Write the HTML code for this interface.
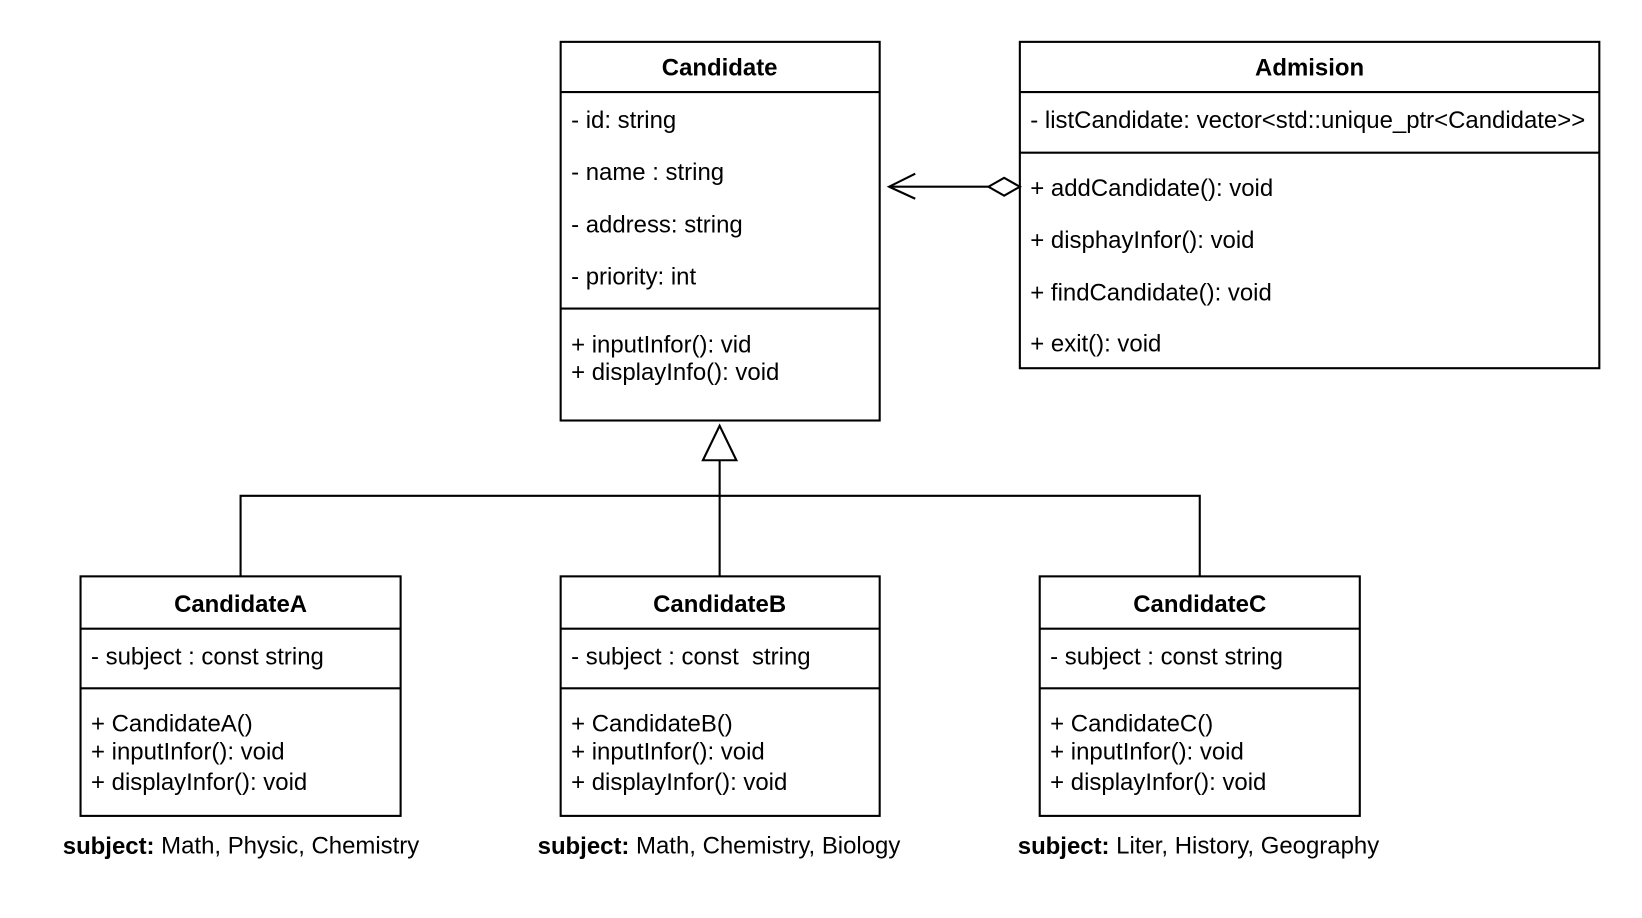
<!DOCTYPE html>
<html><head><meta charset="utf-8"><style>
html,body{margin:0;padding:0;background:#fff;}
svg{display:block;}
text{font-family:"Liberation Sans",Arial,sans-serif;font-size:22.9px;fill:#000;dominant-baseline:central;}
.b{font-weight:bold;}
</style></head><body>
<svg width="1642" height="918" viewBox="0 0 1569.8 877.6" xmlns="http://www.w3.org/2000/svg">
<g fill="none" stroke="#000" stroke-width="2">
<rect x="536" y="40" width="305" height="362"/>
<line x1="536" y1="88" x2="841" y2="88"/>
<line x1="536" y1="295" x2="841" y2="295"/>
<rect x="975" y="40" width="554" height="312"/>
<line x1="975" y1="88" x2="1529" y2="88"/>
<line x1="975" y1="146" x2="1529" y2="146"/>
<rect x="77" y="551" width="306" height="229"/>
<line x1="77" y1="601" x2="383" y2="601"/>
<line x1="77" y1="658" x2="383" y2="658"/>
<rect x="536" y="551" width="305" height="229"/>
<line x1="536" y1="601" x2="841" y2="601"/>
<line x1="536" y1="658" x2="841" y2="658"/>
<rect x="994" y="551" width="306" height="229"/>
<line x1="994" y1="601" x2="1300" y2="601"/>
<line x1="994" y1="658" x2="1300" y2="658"/>
<line x1="850" y1="178.5" x2="945" y2="178.5"/>
<polyline points="875,166 850,178.5 875,190"/>
<polygon points="945,178.5 960,170 975,178.5 960,187" fill="#fff"/>
<polygon points="688,407 672,440 704,440" fill="#fff"/>
<line x1="688" y1="440" x2="688" y2="551"/>
<polyline points="230,551 230,474 1147,474 1147,551"/>
</g>
<text class="b" x="688" y="65" text-anchor="middle">Candidate</text>
<text x="546" y="115">- id: string</text>
<text x="546" y="165">- name : string</text>
<text x="546" y="215">- address: string</text>
<text x="546" y="265">- priority: int</text>
<text x="546" y="330">+ inputInfor(): vid</text>
<text x="546" y="356">+ displayInfo(): void</text>

<text class="b" x="1252" y="65" text-anchor="middle">Admision</text>
<text x="985" y="115">- listCandidate: vector&lt;std::unique_ptr&lt;Candidate&gt;&gt;</text>
<text x="985" y="180">+ addCandidate(): void</text>
<text x="985" y="230">+ disphayInfor(): void</text>
<text x="985" y="280">+ findCandidate(): void</text>
<text x="985" y="329">+ exit(): void</text>

<text class="b" x="230" y="578" text-anchor="middle">CandidateA</text>
<text x="87" y="628">- subject : const string</text>
<text x="87" y="692">+ CandidateA()</text>
<text x="87" y="719">+ inputInfor(): void</text>
<text x="87" y="748">+ displayInfor(): void</text>

<text class="b" x="688" y="578" text-anchor="middle">CandidateB</text>
<text x="546" y="628" xml:space="preserve">- subject : const  string</text>
<text x="546" y="692">+ CandidateB()</text>
<text x="546" y="719">+ inputInfor(): void</text>
<text x="546" y="748">+ displayInfor(): void</text>

<text class="b" x="1147" y="578" text-anchor="middle">CandidateC</text>
<text x="1004" y="628">- subject : const string</text>
<text x="1004" y="692">+ CandidateC()</text>
<text x="1004" y="719">+ inputInfor(): void</text>
<text x="1004" y="748">+ displayInfor(): void</text>

<text x="60" y="809"><tspan class="b">subject:</tspan> Math, Physic, Chemistry</text>
<text x="514" y="809"><tspan class="b">subject:</tspan> Math, Chemistry, Biology</text>
<text x="973" y="809"><tspan class="b">subject:</tspan> Liter, History, Geography</text>
</svg>
</body></html>
